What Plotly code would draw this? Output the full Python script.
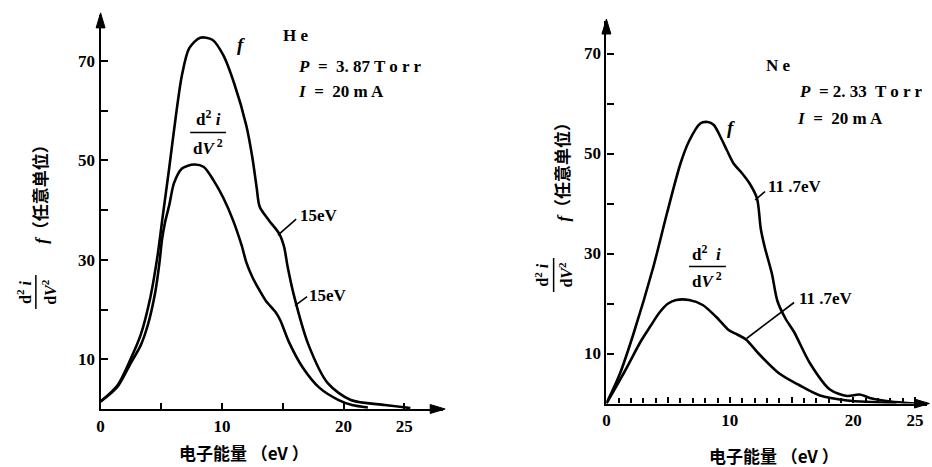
import plotly.graph_objects as go

# ---------------- data ----------------
# He panel
he_f_x = [0, 1.4, 2.5, 3.3, 4.1, 4.7, 5.1, 5.65, 6.2, 6.7, 7.3, 8.2, 9.2, 10.1, 11.0, 12.0,
          12.5, 12.85, 13.1, 13.85, 14.7, 15.1, 15.4, 15.9, 17.1, 18.7, 20.6, 23.4, 25.5]
he_f_y = [1.5, 4.8, 10.2, 14.9, 22.5, 31.0, 38.5, 48.5, 59.0, 67.2, 72.6, 74.7, 74.3, 71.2, 65.5, 57.0,
          50.5, 44.5, 40.7, 38.0, 35.3, 32.7, 28.6, 23.0, 13.0, 5.2, 1.8, 0.8, 0.2]
he_d2_x = [0, 1.4, 2.5, 3.3, 3.9, 4.5, 4.85, 5.05, 5.3, 5.65, 6.05, 6.7, 7.7, 8.5, 9.3, 10.1, 10.9, 11.6,
           12.0, 12.5, 13.1, 13.6, 14.4, 14.8, 15.5, 16.6, 18.0, 19.6, 20.7, 22.0]
he_d2_y = [1.5, 4.5, 9.3, 12.8, 17.0, 23.5, 29.5, 34.0, 37.5, 41.0, 45.5, 48.4, 49.2, 48.7, 46.0, 42.5, 38.0, 33.0,
           29.5, 26.5, 23.8, 21.8, 19.5, 17.8, 13.5, 8.5, 4.3, 1.8, 0.8, 0.3]

# Ne panel
ne_f_x = [0, 1.1, 2.2, 3.8, 4.9, 6.0, 6.7, 7.6, 8.2, 8.7, 9.3, 9.75, 10.3, 11.0, 11.6, 12.2,
          12.5, 12.8, 13.4, 13.85, 14.5, 15.2, 16.5, 18.1, 19.5, 20.5, 21.5, 23.0, 25.0]
ne_f_y = [0, 6, 14, 27.3, 38, 48, 52.5, 56, 56.3, 55.7, 53, 50.7, 48, 46, 44, 41,
          35, 31.5, 26, 20.5, 17, 14.3, 8, 2.8, 1.5, 1.8, 1.0, 0.4, 0]
ne_d2_x = [0, 1.5, 2.8, 3.6, 4.3, 5.0, 5.65, 6.7, 7.8, 8.9, 9.9, 10.6, 11.3, 12.4, 14.0, 15.6,
           17.3, 19.5, 21.5, 23.5]
ne_d2_y = [0, 6.5, 12.5, 15.6, 18.2, 20.0, 20.7, 20.7, 19.7, 17.3, 14.7, 13.8, 12.8, 9.8, 6.0, 3.7,
           1.6, 0.6, 0.3, 0.1]

x_tickvals = [0, 5, 10, 15, 20, 25]
x_ticktext = ["0", "", "10", "", "20", "25"]
y_tickvals = [10, 20, 30, 40, 50, 60, 70]
y_ticktext = ["10", "", "30", "", "50", "", "70"]
ne_x_minor_dtick = 1

x_title = "电子能量 （eV ）"
y_title = "<i>f</i>（任意单位）"

# ---------------- layout helpers ----------------
W, H = 932, 467
def px(X):
    return X / W
def py(Y):
    return 1 - Y / H

SERIF = "Liberation Serif, Noto Sans CJK SC"
CJK = "Noto Sans CJK SC"

# left panel geometry (pixels)
L_x0, L_sx, L_xmax = 97, 12.2, 28.2
L_y0, L_sy, L_ymax = 409, 4.97, 79.3
# right panel geometry
R_x0, R_sx, R_xmax = 605, 12.4, 26.0
R_y0, R_sy, R_ymax = 403.5, 5.0, 76.5

fig = go.Figure()

line_style = dict(color="black", width=2.6, shape="spline", smoothing=0.8)
for xs, ys, xa, ya in [(he_f_x, he_f_y, "x", "y"), (he_d2_x, he_d2_y, "x", "y"),
                       (ne_f_x, ne_f_y, "x2", "y2"), (ne_d2_x, ne_d2_y, "x2", "y2")]:
    fig.add_trace(go.Scatter(x=xs, y=ys, mode="lines", line=line_style,
                             xaxis=xa, yaxis=ya, showlegend=False, hoverinfo="skip",
                             cliponaxis=False))

tickfont = dict(family="Liberation Serif", size=17, color="black", weight="bold")
common_x = dict(showgrid=False, zeroline=False, showline=True, linecolor="black", linewidth=2.2,
                ticks="inside", ticklen=6, tickwidth=2, tickcolor="black", tickmode="array",
                tickvals=x_tickvals, ticktext=x_ticktext, tickfont=tickfont, fixedrange=True)
common_y = dict(showgrid=False, zeroline=False, showline=True, linecolor="black", linewidth=2.2,
                ticks="inside", ticklen=7, tickwidth=2, tickcolor="black", tickmode="array",
                tickvals=y_tickvals, ticktext=y_ticktext, tickfont=tickfont, fixedrange=True)

fig.update_layout(
    width=W, height=H, margin=dict(l=0, r=0, t=0, b=0),
    paper_bgcolor="white", plot_bgcolor="white",
    xaxis=dict(common_x, range=[0, L_xmax], domain=[px(L_x0), px(L_x0 + L_sx * L_xmax)], anchor="y"),
    yaxis=dict(common_y, range=[0, L_ymax], domain=[py(L_y0), py(L_y0 - L_sy * L_ymax)], anchor="x"),
    xaxis2=dict(common_x, range=[0, R_xmax], domain=[px(R_x0), px(R_x0 + R_sx * R_xmax)], anchor="y2",
                minor=dict(tickmode="linear", tick0=0, dtick=ne_x_minor_dtick, ticks="inside", ticklen=5,
                           tickwidth=1.5, tickcolor="black", showgrid=False)),
    yaxis2=dict(common_y, range=[0, R_ymax], domain=[py(R_y0), py(R_y0 - R_sy * R_ymax)], anchor="x2"),
)

ann = []
shapes = []

# arrowheads at the ends of the axes (filled triangles, pixel geometry)
def arrow_right(Xt, Y, L=15, hw=4.5):
    path = f"M {px(Xt)} {py(Y)} L {px(Xt - L)} {py(Y - hw)} L {px(Xt - L)} {py(Y + hw)} Z"
    shapes.append(dict(type="path", xref="paper", yref="paper", path=path,
                       fillcolor="black", line=dict(color="black", width=1)))
def arrow_up(X, Yt, L=15, hw=4.5):
    path = f"M {px(X)} {py(Yt)} L {px(X - hw)} {py(Yt + L)} L {px(X + hw)} {py(Yt + L)} Z"
    shapes.append(dict(type="path", xref="paper", yref="paper", path=path,
                       fillcolor="black", line=dict(color="black", width=1)))

arrow_right(L_x0 + L_sx * L_xmax + 2, L_y0)
arrow_up(L_x0, L_y0 - L_sy * L_ymax - 2)
arrow_right(R_x0 + R_sx * R_xmax + 2, R_y0)
arrow_up(R_x0, R_y0 - R_sy * R_ymax - 2)

def text_px(X, Y, t, xanchor="left", size=16, angle=0, family="Liberation Serif"):
    ann.append(dict(x=px(X), y=py(Y), xref="paper", yref="paper", text=t, showarrow=False,
                    xanchor=xanchor, yanchor="middle", textangle=angle,
                    font=dict(family=family, size=size, color="black", weight="bold")))

def hline_px(X1, X2, Y, w=1.5):
    shapes.append(dict(type="line", xref="paper", yref="paper", x0=px(X1), x1=px(X2),
                       y0=py(Y), y1=py(Y), line=dict(color="black", width=w)))
def vline_px(X, Y1, Y2, w=1.5):
    shapes.append(dict(type="line", xref="paper", yref="paper", x0=px(X), x1=px(X),
                       y0=py(Y1), y1=py(Y2), line=dict(color="black", width=w)))
def leader(xr, yr, xa, ya, xb, yb):
    shapes.append(dict(type="line", xref=xr, yref=yr, x0=xa, y0=ya, x1=xb, y1=yb,
                       line=dict(color="black", width=1.6)))

# ---- He panel texts ----
text_px(278, 35, "H e", size=17)
text_px(293, 67, "<i>P</i>  =  3. 87 T o r r", size=17)
text_px(293, 92, "<i>I</i>  =  20 m A", size=17)
text_px(232, 44, "<i>f</i>", size=19)
text_px(205, 118, "d<sup>2</sup> <i>i</i>", xanchor="center", size=17)
hline_px(187, 223, 132.5)
text_px(205, 147, "d<i>V</i><sup> 2</sup>", xanchor="center", size=17)
leader("x", "y", 14.6, 35.0, 16.1, 38.2)
text_px(295, 216, "15eV", size=17)
leader("x", "y", 16.0, 20.8, 17.0, 22.6)
text_px(304, 295, "15eV", size=17)

# ---- Ne panel texts ----
text_px(763, 66, "N e", size=17)
text_px(796, 92, "<i>P</i>  = 2. 33  T o r r", size=17)
text_px(794, 119, "<i>I</i>  =  20 m A", size=17)
text_px(724, 127, "<i>f</i>", size=19)
text_px(706, 253, "d<sup>2</sup>  <i>i</i>", xanchor="center", size=17)
hline_px(688, 725, 266.5)
text_px(706, 280, "d<i>V</i><sup> 2</sup>", xanchor="center", size=17)
leader("x2", "y2", 12.05, 40.7, 12.85, 42.4)
text_px(765, 186, "11 .7eV", size=17)
leader("x2", "y2", 11.35, 13.0, 15.2, 20.2)
text_px(796, 298, "11 .7eV", size=17)

# ---- axis titles ----
text_px(241, 452, x_title, xanchor="center", size=17, family=CJK)
text_px(773, 455, x_title, xanchor="center", size=17, family=CJK)

# left y titles (rotated)
text_px(37, 190, y_title, xanchor="center", size=17, angle=-90, family=SERIF)
text_px(20, 292, "d<sup>2</sup> <i>i</i>", xanchor="center", size=16, angle=-90)
vline_px(32, 275, 309)
text_px(45, 292, "d<i>V</i><sup>2</sup>", xanchor="center", size=16, angle=-90)
# right y titles
text_px(561, 168, y_title, xanchor="center", size=17, angle=-90, family=SERIF)
text_px(540, 275, "d<sup>2</sup> <i>i</i>", xanchor="center", size=16, angle=-90)
vline_px(552, 258, 292)
text_px(564, 275, "d<i>V</i><sup>2</sup>", xanchor="center", size=16, angle=-90)

fig.update_layout(annotations=ann, shapes=shapes)
fig.write_html("out.html")
